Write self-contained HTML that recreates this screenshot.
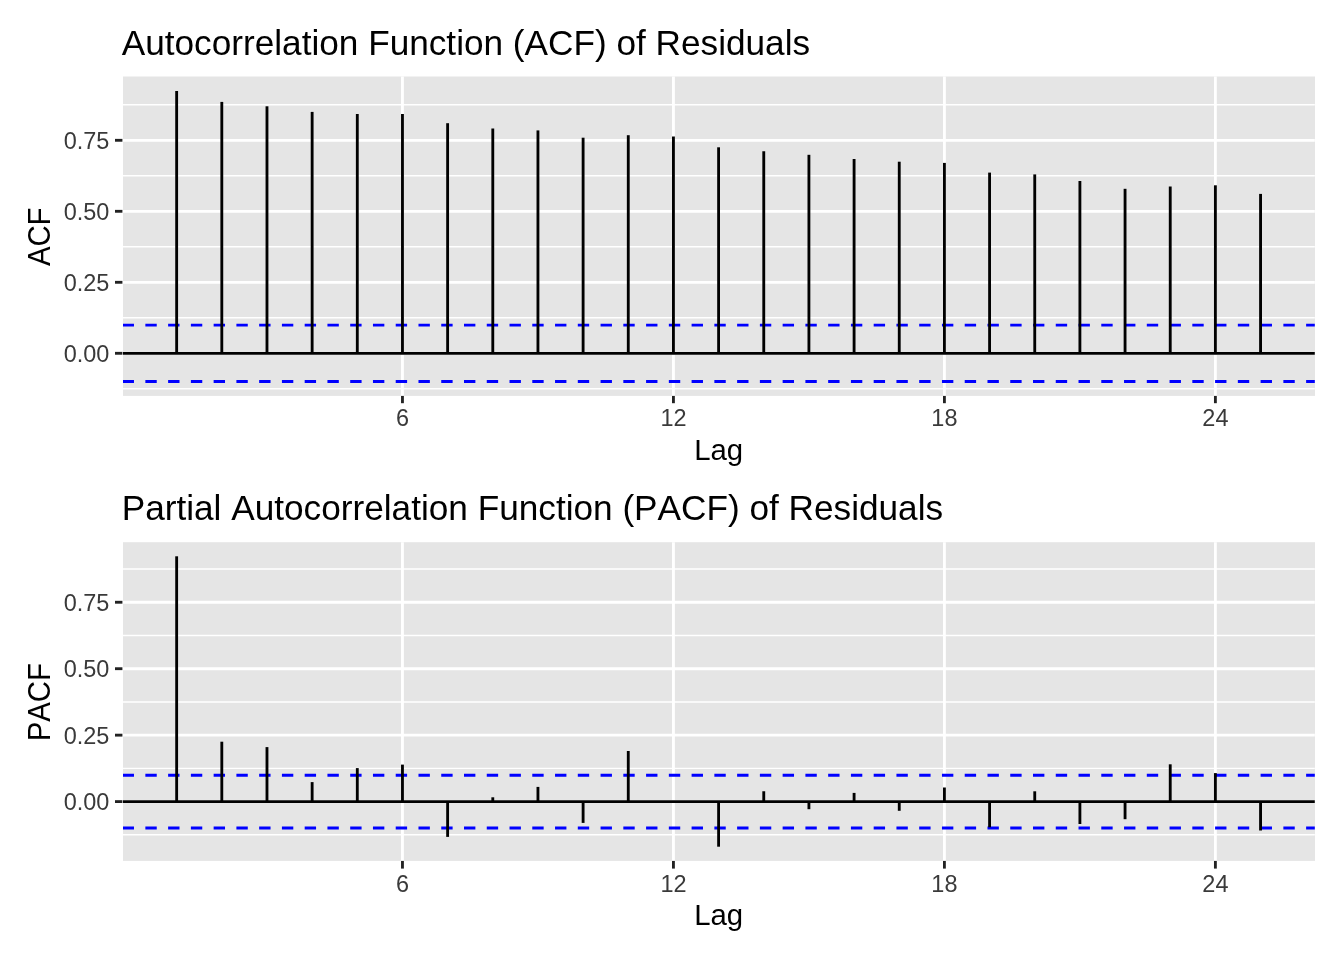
<!DOCTYPE html>
<html lang="en"><head><meta charset="utf-8"><title>ACF and PACF of Residuals</title>
<style>html,body{margin:0;padding:0;background:#fff}svg{display:block}text{font-kerning:none;font-variant-ligatures:none;font-family:"Liberation Sans",Arial,Helvetica,sans-serif}.t{font-size:35.2px;fill:#000}.a{font-size:29.33px;fill:#000}.k{font-size:23.47px;fill:#3a3a3a}</style></head><body>
<svg width="1344" height="960" viewBox="0 0 1344 960">
<rect width="1344" height="960" fill="#fff"/>
<rect x="123" y="76.5" width="1192" height="319.4" fill="#e5e5e5"/>
<line x1="123.0" x2="1314.8" y1="388.80" y2="388.80" stroke="#fff" stroke-width="1.42"/>
<line x1="123.0" x2="1314.8" y1="317.80" y2="317.80" stroke="#fff" stroke-width="1.42"/>
<line x1="123.0" x2="1314.8" y1="246.80" y2="246.80" stroke="#fff" stroke-width="1.42"/>
<line x1="123.0" x2="1314.8" y1="175.80" y2="175.80" stroke="#fff" stroke-width="1.42"/>
<line x1="123.0" x2="1314.8" y1="104.80" y2="104.80" stroke="#fff" stroke-width="1.42"/>
<line x1="123.0" x2="1314.8" y1="353.30" y2="353.30" stroke="#fff" stroke-width="2.85"/>
<line x1="123.0" x2="1314.8" y1="282.30" y2="282.30" stroke="#fff" stroke-width="2.85"/>
<line x1="123.0" x2="1314.8" y1="211.30" y2="211.30" stroke="#fff" stroke-width="2.85"/>
<line x1="123.0" x2="1314.8" y1="140.30" y2="140.30" stroke="#fff" stroke-width="2.85"/>
<line x1="402.46" x2="402.46" y1="76.5" y2="395.9" stroke="#fff" stroke-width="2.85"/>
<line x1="673.44" x2="673.44" y1="76.5" y2="395.9" stroke="#fff" stroke-width="2.85"/>
<line x1="944.41" x2="944.41" y1="76.5" y2="395.9" stroke="#fff" stroke-width="2.85"/>
<line x1="1215.39" x2="1215.39" y1="76.5" y2="395.9" stroke="#fff" stroke-width="2.85"/>
<line x1="123.0" x2="1314.8" y1="325.10" y2="325.10" stroke="#0000ff" stroke-width="2.85" stroke-dasharray="11.38 11.38" stroke-dashoffset="0.4"/>
<line x1="123.0" x2="1314.8" y1="381.50" y2="381.50" stroke="#0000ff" stroke-width="2.85" stroke-dasharray="11.38 11.38" stroke-dashoffset="0.4"/>
<line x1="123.0" x2="1314.8" y1="353.3" y2="353.3" stroke="#000" stroke-width="2.85"/>
<line x1="176.65" x2="176.65" y1="353.3" y2="91.0" stroke="#000" stroke-width="2.85"/>
<line x1="221.81" x2="221.81" y1="353.3" y2="101.9" stroke="#000" stroke-width="2.85"/>
<line x1="266.98" x2="266.98" y1="353.3" y2="106.3" stroke="#000" stroke-width="2.85"/>
<line x1="312.14" x2="312.14" y1="353.3" y2="111.9" stroke="#000" stroke-width="2.85"/>
<line x1="357.30" x2="357.30" y1="353.3" y2="114.0" stroke="#000" stroke-width="2.85"/>
<line x1="402.46" x2="402.46" y1="353.3" y2="114.0" stroke="#000" stroke-width="2.85"/>
<line x1="447.62" x2="447.62" y1="353.3" y2="123.2" stroke="#000" stroke-width="2.85"/>
<line x1="492.79" x2="492.79" y1="353.3" y2="128.5" stroke="#000" stroke-width="2.85"/>
<line x1="537.95" x2="537.95" y1="353.3" y2="130.4" stroke="#000" stroke-width="2.85"/>
<line x1="583.11" x2="583.11" y1="353.3" y2="137.7" stroke="#000" stroke-width="2.85"/>
<line x1="628.27" x2="628.27" y1="353.3" y2="135.2" stroke="#000" stroke-width="2.85"/>
<line x1="673.44" x2="673.44" y1="353.3" y2="136.5" stroke="#000" stroke-width="2.85"/>
<line x1="718.60" x2="718.60" y1="353.3" y2="147.3" stroke="#000" stroke-width="2.85"/>
<line x1="763.76" x2="763.76" y1="353.3" y2="151.25" stroke="#000" stroke-width="2.85"/>
<line x1="808.92" x2="808.92" y1="353.3" y2="154.8" stroke="#000" stroke-width="2.85"/>
<line x1="854.09" x2="854.09" y1="353.3" y2="159.0" stroke="#000" stroke-width="2.85"/>
<line x1="899.25" x2="899.25" y1="353.3" y2="161.7" stroke="#000" stroke-width="2.85"/>
<line x1="944.41" x2="944.41" y1="353.3" y2="162.9" stroke="#000" stroke-width="2.85"/>
<line x1="989.58" x2="989.58" y1="353.3" y2="172.6" stroke="#000" stroke-width="2.85"/>
<line x1="1034.74" x2="1034.74" y1="353.3" y2="174.4" stroke="#000" stroke-width="2.85"/>
<line x1="1079.90" x2="1079.90" y1="353.3" y2="181.0" stroke="#000" stroke-width="2.85"/>
<line x1="1125.06" x2="1125.06" y1="353.3" y2="188.8" stroke="#000" stroke-width="2.85"/>
<line x1="1170.23" x2="1170.23" y1="353.3" y2="186.5" stroke="#000" stroke-width="2.85"/>
<line x1="1215.39" x2="1215.39" y1="353.3" y2="185.3" stroke="#000" stroke-width="2.85"/>
<line x1="1260.55" x2="1260.55" y1="353.3" y2="193.9" stroke="#000" stroke-width="2.85"/>
<line x1="115.0" x2="122.4" y1="353.30" y2="353.30" stroke="#222" stroke-width="2.85"/>
<text class="k" x="109.4" y="361.70" text-anchor="end">0.00</text>
<line x1="115.0" x2="122.4" y1="282.30" y2="282.30" stroke="#222" stroke-width="2.85"/>
<text class="k" x="109.4" y="290.70" text-anchor="end">0.25</text>
<line x1="115.0" x2="122.4" y1="211.30" y2="211.30" stroke="#222" stroke-width="2.85"/>
<text class="k" x="109.4" y="219.70" text-anchor="end">0.50</text>
<line x1="115.0" x2="122.4" y1="140.30" y2="140.30" stroke="#222" stroke-width="2.85"/>
<text class="k" x="109.4" y="148.70" text-anchor="end">0.75</text>
<line x1="402.46" x2="402.46" y1="395.9" y2="403.2" stroke="#222" stroke-width="2.85"/>
<text class="k" x="402.46" y="425.9" text-anchor="middle">6</text>
<line x1="673.44" x2="673.44" y1="395.9" y2="403.2" stroke="#222" stroke-width="2.85"/>
<text class="k" x="673.44" y="425.9" text-anchor="middle">12</text>
<line x1="944.41" x2="944.41" y1="395.9" y2="403.2" stroke="#222" stroke-width="2.85"/>
<text class="k" x="944.41" y="425.9" text-anchor="middle">18</text>
<line x1="1215.39" x2="1215.39" y1="395.9" y2="403.2" stroke="#222" stroke-width="2.85"/>
<text class="k" x="1215.39" y="425.9" text-anchor="middle">24</text>
<text class="a" x="718.60" y="460.0" text-anchor="middle">Lag</text>
<text class="a" transform="translate(50.1 236.80) rotate(-90) scale(1 1.05)" text-anchor="middle">ACF</text>
<text class="t" x="121.7" y="55.0">Autocorrelation Function (ACF) of Residuals</text>
<rect x="123" y="542.2" width="1192" height="318.7" fill="#e5e5e5"/>
<line x1="123.0" x2="1314.8" y1="834.83" y2="834.83" stroke="#fff" stroke-width="1.42"/>
<line x1="123.0" x2="1314.8" y1="768.38" y2="768.38" stroke="#fff" stroke-width="1.42"/>
<line x1="123.0" x2="1314.8" y1="701.92" y2="701.92" stroke="#fff" stroke-width="1.42"/>
<line x1="123.0" x2="1314.8" y1="635.48" y2="635.48" stroke="#fff" stroke-width="1.42"/>
<line x1="123.0" x2="1314.8" y1="569.02" y2="569.02" stroke="#fff" stroke-width="1.42"/>
<line x1="123.0" x2="1314.8" y1="801.60" y2="801.60" stroke="#fff" stroke-width="2.85"/>
<line x1="123.0" x2="1314.8" y1="735.15" y2="735.15" stroke="#fff" stroke-width="2.85"/>
<line x1="123.0" x2="1314.8" y1="668.70" y2="668.70" stroke="#fff" stroke-width="2.85"/>
<line x1="123.0" x2="1314.8" y1="602.25" y2="602.25" stroke="#fff" stroke-width="2.85"/>
<line x1="402.46" x2="402.46" y1="542.2" y2="860.9" stroke="#fff" stroke-width="2.85"/>
<line x1="673.44" x2="673.44" y1="542.2" y2="860.9" stroke="#fff" stroke-width="2.85"/>
<line x1="944.41" x2="944.41" y1="542.2" y2="860.9" stroke="#fff" stroke-width="2.85"/>
<line x1="1215.39" x2="1215.39" y1="542.2" y2="860.9" stroke="#fff" stroke-width="2.85"/>
<line x1="123.0" x2="1314.8" y1="775.21" y2="775.21" stroke="#0000ff" stroke-width="2.85" stroke-dasharray="11.38 11.38" stroke-dashoffset="0.4"/>
<line x1="123.0" x2="1314.8" y1="827.99" y2="827.99" stroke="#0000ff" stroke-width="2.85" stroke-dasharray="11.38 11.38" stroke-dashoffset="0.4"/>
<line x1="123.0" x2="1314.8" y1="801.6" y2="801.6" stroke="#000" stroke-width="2.85"/>
<line x1="176.65" x2="176.65" y1="801.6" y2="556.3" stroke="#000" stroke-width="2.85"/>
<line x1="221.81" x2="221.81" y1="801.6" y2="741.7" stroke="#000" stroke-width="2.85"/>
<line x1="266.98" x2="266.98" y1="801.6" y2="747.1" stroke="#000" stroke-width="2.85"/>
<line x1="312.14" x2="312.14" y1="801.6" y2="782.1" stroke="#000" stroke-width="2.85"/>
<line x1="357.30" x2="357.30" y1="801.6" y2="768.1" stroke="#000" stroke-width="2.85"/>
<line x1="402.46" x2="402.46" y1="801.6" y2="764.6" stroke="#000" stroke-width="2.85"/>
<line x1="447.62" x2="447.62" y1="801.6" y2="836.9" stroke="#000" stroke-width="2.85"/>
<line x1="492.79" x2="492.79" y1="801.6" y2="797.3" stroke="#000" stroke-width="2.85"/>
<line x1="537.95" x2="537.95" y1="801.6" y2="786.9" stroke="#000" stroke-width="2.85"/>
<line x1="583.11" x2="583.11" y1="801.6" y2="822.9" stroke="#000" stroke-width="2.85"/>
<line x1="628.27" x2="628.27" y1="801.6" y2="751.0" stroke="#000" stroke-width="2.85"/>
<line x1="673.44" x2="673.44" y1="801.6" y2="801.0" stroke="#000" stroke-width="2.85"/>
<line x1="718.60" x2="718.60" y1="801.6" y2="846.7" stroke="#000" stroke-width="2.85"/>
<line x1="763.76" x2="763.76" y1="801.6" y2="791.25" stroke="#000" stroke-width="2.85"/>
<line x1="808.92" x2="808.92" y1="801.6" y2="809.2" stroke="#000" stroke-width="2.85"/>
<line x1="854.09" x2="854.09" y1="801.6" y2="792.9" stroke="#000" stroke-width="2.85"/>
<line x1="899.25" x2="899.25" y1="801.6" y2="810.8" stroke="#000" stroke-width="2.85"/>
<line x1="944.41" x2="944.41" y1="801.6" y2="787.5" stroke="#000" stroke-width="2.85"/>
<line x1="989.58" x2="989.58" y1="801.6" y2="827.3" stroke="#000" stroke-width="2.85"/>
<line x1="1034.74" x2="1034.74" y1="801.6" y2="791.3" stroke="#000" stroke-width="2.85"/>
<line x1="1079.90" x2="1079.90" y1="801.6" y2="824.0" stroke="#000" stroke-width="2.85"/>
<line x1="1125.06" x2="1125.06" y1="801.6" y2="819.2" stroke="#000" stroke-width="2.85"/>
<line x1="1170.23" x2="1170.23" y1="801.6" y2="764.3" stroke="#000" stroke-width="2.85"/>
<line x1="1215.39" x2="1215.39" y1="801.6" y2="773.1" stroke="#000" stroke-width="2.85"/>
<line x1="1260.55" x2="1260.55" y1="801.6" y2="830.5" stroke="#000" stroke-width="2.85"/>
<line x1="115.0" x2="122.4" y1="801.60" y2="801.60" stroke="#222" stroke-width="2.85"/>
<text class="k" x="109.4" y="810.00" text-anchor="end">0.00</text>
<line x1="115.0" x2="122.4" y1="735.15" y2="735.15" stroke="#222" stroke-width="2.85"/>
<text class="k" x="109.4" y="743.55" text-anchor="end">0.25</text>
<line x1="115.0" x2="122.4" y1="668.70" y2="668.70" stroke="#222" stroke-width="2.85"/>
<text class="k" x="109.4" y="677.10" text-anchor="end">0.50</text>
<line x1="115.0" x2="122.4" y1="602.25" y2="602.25" stroke="#222" stroke-width="2.85"/>
<text class="k" x="109.4" y="610.65" text-anchor="end">0.75</text>
<line x1="402.46" x2="402.46" y1="860.9" y2="868.6" stroke="#222" stroke-width="2.85"/>
<text class="k" x="402.46" y="891.9" text-anchor="middle">6</text>
<line x1="673.44" x2="673.44" y1="860.9" y2="868.6" stroke="#222" stroke-width="2.85"/>
<text class="k" x="673.44" y="891.9" text-anchor="middle">12</text>
<line x1="944.41" x2="944.41" y1="860.9" y2="868.6" stroke="#222" stroke-width="2.85"/>
<text class="k" x="944.41" y="891.9" text-anchor="middle">18</text>
<line x1="1215.39" x2="1215.39" y1="860.9" y2="868.6" stroke="#222" stroke-width="2.85"/>
<text class="k" x="1215.39" y="891.9" text-anchor="middle">24</text>
<text class="a" x="718.60" y="925.0" text-anchor="middle">Lag</text>
<text class="a" transform="translate(50.1 702.15) rotate(-90) scale(1 1.05)" text-anchor="middle">PACF</text>
<text class="t" x="121.7" y="520.0">Partial Autocorrelation Function (PACF) of Residuals</text>
</svg></body></html>
